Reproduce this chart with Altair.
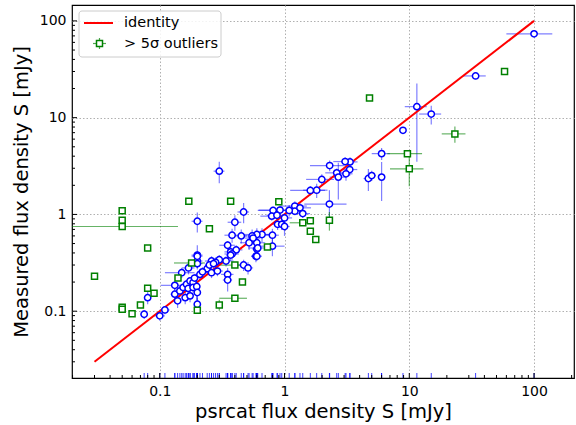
import altair as alt
import pandas as pd

# ---- blue: matched pulsars (psrcat flux, measured flux, errors) ----
blue_x = [100, 34, 11.5, 15, 8.9, 6.0, 6.0, 4.7, 5.0, 3.35, 3.06, 3.33, 3.11, 2.62, 2.70, 2.30, 1.99, 1.81, 1.61, 2.29,
          1.21, 1.21, 1.09, 1.33, 1.40, 0.92, 0.81, 0.79, 0.87, 1.0, 0.88, 0.95, 1.0, 0.66, 0.60, 0.55, 0.60, 0.60, 0.59, 0.80,
          0.80, 0.30, 0.47, 0.20, 0.40, 0.38, 0.45, 0.35, 0.52, 0.37, 0.41, 0.61, 0.56, 0.20, 0.20, 0.17, 0.38, 0.34, 0.30, 0.26,
          0.47, 0.60, 0.35, 0.15, 0.132, 0.132, 0.139, 0.145, 0.154, 0.164, 0.169, 0.175, 0.185, 0.19, 0.21, 0.24, 0.25, 0.16, 0.175, 0.185,
          0.198, 0.20, 0.20, 0.11, 0.10, 0.08, 0.075, 0.20, 0.20, 0.51, 0.35, 0.37, 0.28, 0.26, 0.29, 0.27, 0.22]
blue_y = [73.5, 27, 13.0, 10.9, 7.4, 4.25, 2.43, 2.35, 2.52, 3.49, 3.52, 2.91, 2.63, 2.69, 2.43, 3.2, 2.30, 1.78, 1.77, 1.28,
          1.22, 1.08, 1.10, 1.17, 1.02, 1.11, 1.10, 0.96, 0.98, 0.92, 0.79, 0.79, 0.75, 0.62, 0.62, 0.60, 0.51, 0.44, 0.37, 0.61,
          0.47, 2.8, 1.06, 0.85, 0.83, 0.61, 0.60, 0.48, 0.51, 0.41, 0.43, 0.45, 0.57, 0.38, 0.33, 0.28, 0.39, 0.33, 0.34, 0.33,
          0.30, 0.37, 0.24, 0.25, 0.185, 0.15, 0.128, 0.162, 0.176, 0.19, 0.172, 0.205, 0.198, 0.22, 0.24, 0.275, 0.30, 0.138, 0.144, 0.176,
          0.18, 0.156, 0.118, 0.103, 0.0895, 0.138, 0.093, 0.31, 0.37, 0.28, 0.21, 0.38, 0.32, 0.25, 0.26, 0.31, 0.255]
blue_xerr = [40, 7, 2.3, 3, 0.5, 1.0, 0.4, 0.4, 0.4, 0.5, 0.6, 0.5, 0.4, 0.5, 0.4, 0.7, 0.5, 0.4, 0.5, 0.85,
             0.3, 0.2, 0.3, 0.3, 0.2, 0.3, 0.2, 0.15, 0.15, 0.15, 0.1, 0.1, 0.1, 0.1, 0.15, 0.1, 0.1, 0.05, 0.05, 0.1,
             0.2, 0.03, 0.05, 0.02, 0.05, 0.05, 0.05, 0.05, 0.08, 0.04, 0.05, 0.1, 0.08, 0.02, 0.02, 0.02, 0.05, 0.05, 0.04, 0.03,
             0.06, 0.06, 0.04, 0.04, 0.03, 0.01, 0.01, 0.01, 0.01, 0.01, 0.01, 0.01, 0.01, 0.01, 0.02, 0.02, 0.02, 0.01, 0.01, 0.01,
             0.01, 0.01, 0.01, 0.01, 0.01, 0.005, 0.005, 0.02, 0.02, 0.05, 0.03, 0.03, 0.03, 0.03, 0.03, 0.03, 0.02]
blue_yerr = [5, 2, 9.5, 2.4, 0.5, 0.6, 1.05, 0.6, 0.3, 0.4, 0.4, 0.4, 0.4, 0.3, 1.0, 0.4, 0.3, 0.3, 0.2, 0.5,
             0.15, 0.1, 0.15, 0.15, 0.1, 0.1, 0.1, 0.1, 0.1, 0.1, 0.1, 0.1, 0.15, 0.1, 0.1, 0.1, 0.1, 0.05, 0.05, 0.1,
             0.1, 0.7, 0.25, 0.2, 0.15, 0.1, 0.1, 0.05, 0.08, 0.05, 0.05, 0.05, 0.08, 0.1, 0.05, 0.04, 0.05, 0.04, 0.04, 0.04,
             0.04, 0.04, 0.04, 0.03, 0.02, 0.02, 0.02, 0.02, 0.02, 0.02, 0.02, 0.02, 0.02, 0.02, 0.03, 0.03, 0.03, 0.02, 0.02, 0.02,
             0.05, 0.03, 0.02, 0.01, 0.01, 0.02, 0.01, 0.04, 0.05, 0.04, 0.05, 0.05, 0.04, 0.03, 0.03, 0.04, 0.03]

# ---- green: > 5 sigma outliers ----
green_x = [0.03, 0.05, 0.05, 0.05, 0.08, 0.171, 0.37, 0.25, 0.18, 0.14, 0.08, 0.09, 0.05, 0.05, 0.07, 0.06, 0.20,
           0.30, 0.40, 0.46, 0.40, 0.90, 0.73, 1.40, 1.61, 1.61, 1.78, 2.29, 9.66, 10.0, 23.2, 58, 4.8]
green_y = [0.23, 1.09, 0.87, 0.75, 0.45, 1.37, 1.37, 0.71, 0.315, 0.22, 0.173, 0.153, 0.11, 0.105, 0.116, 0.094, 0.102,
           0.116, 0.136, 0.20, 0.30, 1.35, 0.46, 0.82, 0.86, 0.67, 0.55, 0.87, 4.25, 2.96, 6.8, 30, 16]
green_xerr = [0.001, 0.001, 0.001, 0.09, 0.002, 0.005, 0.01, 0.005, 0.05, 0.005, 0.002, 0.002, 0.001, 0.001, 0.002, 0.002, 0.005,
              0.01, 0.1, 0.01, 0.13, 0.03, 0.03, 0.3, 0.05, 0.05, 0.05, 0.1, 3, 3, 5, 1, 0.2]
green_yerr = [0.005, 0.02, 0.02, 0.02, 0.01, 0.02, 0.02, 0.02, 0.01, 0.01, 0.005, 0.005, 0.003, 0.003, 0.003, 0.003, 0.005,
              0.015, 0.005, 0.01, 0.01, 0.03, 0.02, 0.03, 0.03, 0.03, 0.03, 0.19, 0.3, 1.0, 1.3, 1.0, 0.5]

identity_x = [0.03, 100]

major_ticks = [0.1, 1, 10, 100]
x_minor = [0.02, 0.03, 0.04, 0.05, 0.06, 0.07, 0.08, 0.09, 0.2, 0.3, 0.4, 0.5, 0.6, 0.7, 0.8, 0.9,
           2, 3, 4, 5, 6, 7, 8, 9, 20, 30, 40, 50, 60, 70, 80, 90, 200]
y_minor = [0.03, 0.04, 0.05, 0.06, 0.07, 0.08, 0.09, 0.2, 0.3, 0.4, 0.5, 0.6, 0.7, 0.8, 0.9,
           2, 3, 4, 5, 6, 7, 8, 9, 20, 30, 40, 50, 60, 70, 80, 90]

W, H = 502, 373
FONT = "DejaVu Sans"
XDOM = [0.0198, 209]
YDOM = [0.0204, 146]
BLUE = "#0000ff"
GREEN = "#008000"


def frame(xs, ys, xe, ye):
    df = pd.DataFrame({"x": xs, "y": ys, "xe": xe, "ye": ye})
    df["x_lo"] = (df["x"] - df["xe"]).clip(lower=1e-4)
    df["x_hi"] = df["x"] + df["xe"]
    df["y_lo"] = (df["y"] - df["ye"]).clip(lower=1e-4)
    df["y_hi"] = df["y"] + df["ye"]
    return df


blue = frame(blue_x, blue_y, blue_xerr, blue_yerr)
green = frame(green_x, green_y, green_xerr, green_yerr)
ident = pd.DataFrame({"x": identity_x, "y": identity_x})

xs = alt.Scale(type="log", domain=XDOM, nice=False)
ys = alt.Scale(type="log", domain=YDOM, nice=False)

xaxis = alt.Axis(
    values=major_ticks, format="~g", ticks=False, domain=False, grid=True,
    gridColor="#b0b0b0", gridDash=[1.5, 2], gridWidth=1,
    labelFont=FONT, labelFontSize=14, labelColor="black", labelPadding=6,
    title="psrcat flux density S [mJy]", titleFont=FONT, titleFontSize=19.5,
    titleFontWeight="normal", titleColor="black", titlePadding=4)
yaxis = alt.Axis(
    values=major_ticks, format="~g", ticks=False, domain=False, grid=True,
    gridColor="#b0b0b0", gridDash=[1.5, 2], gridWidth=1,
    labelFont=FONT, labelFontSize=14, labelColor="black", labelPadding=6,
    title="Measured flux density S [mJy]", titleFont=FONT, titleFontSize=19.5,
    titleFontWeight="normal", titleColor="black", titlePadding=8)


def X(field):
    return alt.X(field, scale=xs, axis=xaxis)


def Y(field):
    return alt.Y(field, scale=ys, axis=yaxis)


def errbars(df, color, op):
    h = alt.Chart(df).mark_rule(color=color, opacity=op, strokeWidth=1.2, clip=True).encode(
        x=X("x_lo:Q"), x2="x_hi:Q", y=Y("y:Q"))
    v = alt.Chart(df).mark_rule(color=color, opacity=op, strokeWidth=1.2, clip=True).encode(
        x=X("x:Q"), y=Y("y_lo:Q"), y2="y_hi:Q")
    return h + v


line = alt.Chart(ident).mark_line(color="#ff0000", strokeWidth=2).encode(x=X("x:Q"), y=Y("y:Q"))

blue_pts = alt.Chart(blue).mark_point(shape="circle", size=40, filled=True, fill="white", fillOpacity=1,
                                      stroke=BLUE, strokeWidth=1.5, opacity=1).encode(x=X("x:Q"), y=Y("y:Q"))
green_pts = alt.Chart(green).mark_point(shape="square", size=36, filled=True, fill="white", fillOpacity=1,
                                        stroke=GREEN, strokeWidth=1.5, opacity=1).encode(x=X("x:Q"), y=Y("y:Q"))

rug = alt.Chart(blue).mark_rule(color=BLUE, opacity=0.75, strokeWidth=1).encode(
    x=X("x:Q"), y=alt.value(H), y2=alt.value(H - 5))

xt_major = alt.Chart(pd.DataFrame({"x": major_ticks})).mark_rule(color="black").encode(
    x=X("x:Q"), y=alt.value(H), y2=alt.value(H - 5))
xt_minor = alt.Chart(pd.DataFrame({"x": x_minor})).mark_rule(color="black").encode(
    x=X("x:Q"), y=alt.value(H), y2=alt.value(H - 3))
yt_major = alt.Chart(pd.DataFrame({"y": major_ticks})).mark_rule(color="black").encode(
    y=Y("y:Q"), x=alt.value(0), x2=alt.value(5))
yt_minor = alt.Chart(pd.DataFrame({"y": y_minor})).mark_rule(color="black").encode(
    y=Y("y:Q"), x=alt.value(0), x2=alt.value(3))

# Legend (drawn inside the plot, upper left)
one = pd.DataFrame({"k": [0]})
leg_box = alt.Chart(one).mark_rect(fill="white", fillOpacity=0.85, stroke="#cccccc", strokeWidth=1,
                                   cornerRadius=3).encode(
    x=alt.value(7), x2=alt.value(149), y=alt.value(6), y2=alt.value(52))
leg_line = alt.Chart(one).mark_rule(color="#ff0000", strokeWidth=2).encode(
    x=alt.value(12), x2=alt.value(41), y=alt.value(18))
leg_h = alt.Chart(one).mark_rule(color=GREEN, opacity=0.7, strokeWidth=1.2).encode(
    x=alt.value(21), x2=alt.value(34), y=alt.value(38.5))
leg_v = alt.Chart(one).mark_rule(color=GREEN, opacity=0.7, strokeWidth=1.2).encode(
    x=alt.value(27.5), y=alt.value(33), y2=alt.value(44))
leg_sq = alt.Chart(one).mark_point(shape="square", size=36, filled=True, fill="white", fillOpacity=1,
                                   stroke=GREEN, strokeWidth=1.5, opacity=1).encode(
    x=alt.value(27.5), y=alt.value(38.5))
leg_t1 = alt.Chart(one).mark_text(text="identity", font=FONT, fontSize=14.5, align="left",
                                  baseline="middle", color="black").encode(
    x=alt.value(52), y=alt.value(18))
leg_t2 = alt.Chart(one).mark_text(text="> 5σ outliers", font=FONT, fontSize=14.5, align="left",
                                  baseline="middle", color="black").encode(
    x=alt.value(52), y=alt.value(39))

chart = alt.layer(
    errbars(blue, BLUE, 0.5),
    errbars(green, GREEN, 0.6),
    line,
    blue_pts,
    green_pts,
    rug,
    xt_major, xt_minor, yt_major, yt_minor,
    leg_box, leg_line, leg_h, leg_v, leg_sq, leg_t1, leg_t2,
).properties(
    width=W, height=H,
    autosize=alt.AutoSizeParams(type="none"),
    padding={"left": 72, "top": 5, "right": 2, "bottom": 47},
).configure_view(stroke="black", strokeWidth=1.2)

chart.save("out.html", embed_options={"renderer": "svg", "actions": False})
